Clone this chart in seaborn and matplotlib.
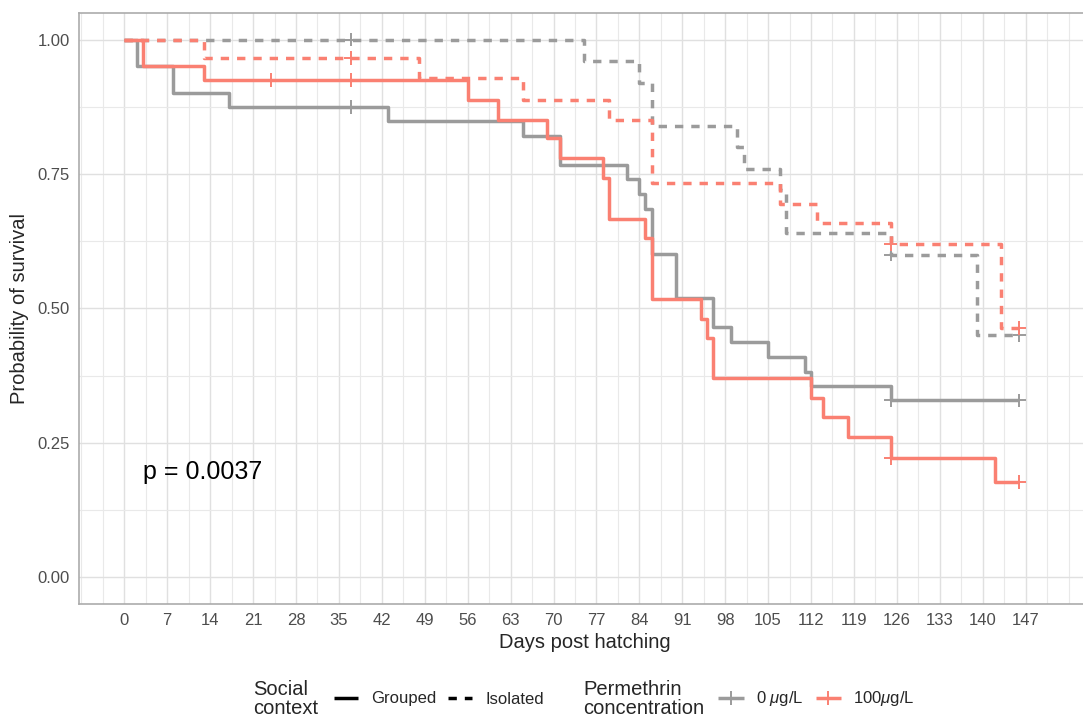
import numpy as np
import pandas as pd
import matplotlib
matplotlib.use("Agg")
import matplotlib.pyplot as plt
from matplotlib.lines import Line2D
from matplotlib.ticker import MultipleLocator, FixedLocator
import seaborn as sns

sns.set_style("white")
plt.rcParams["font.family"] = ["Liberation Sans", "DejaVu Sans"]
plt.rcParams["mathtext.fontset"] = "custom"
plt.rcParams["mathtext.rm"] = "Liberation Sans"
plt.rcParams["mathtext.it"] = "Liberation Sans:italic"

# Kaplan-Meier step curves: event times (days) and survival after each step
conc_levels = ["0", "100"]
conc_labels = ["0 $\\mu$g/L", "100$\\mu$g/L"]
context_levels = ["Grouped", "Isolated"]

t_0_grouped = [0, 2, 8, 17, 43, 65, 71, 82, 84, 85, 86, 90, 96, 99, 105, 111, 112, 125]
s_0_grouped = [1.0, 0.95, 0.90, 0.875, 0.849, 0.82, 0.766, 0.74, 0.712, 0.684,
               0.602, 0.52, 0.465, 0.437, 0.409, 0.381, 0.355, 0.329]
c_0_grouped = [37, 125, 146]

t_100_grouped = [0, 3, 13, 56, 61, 69, 71, 78, 79, 85, 86, 94, 95, 96, 112, 114, 118, 125, 142]
s_100_grouped = [1.0, 0.95, 0.925, 0.888, 0.851, 0.816, 0.779, 0.742, 0.667, 0.63,
                 0.518, 0.481, 0.444, 0.37, 0.334, 0.297, 0.26, 0.222, 0.177]
c_100_grouped = [24, 37, 125, 146]

t_0_isolated = [0, 75, 84, 86, 100, 101, 107, 108, 125, 139]
s_0_isolated = [1.0, 0.96, 0.92, 0.84, 0.80, 0.76, 0.72, 0.64, 0.60, 0.45]
c_0_isolated = [37, 125, 146]

t_100_isolated = [0, 13, 48, 65, 79, 86, 107, 113, 125, 143]
s_100_isolated = [1.0, 0.966, 0.929, 0.888, 0.851, 0.734, 0.695, 0.658, 0.619, 0.463]
c_100_isolated = [37, 125, 146]

day_ticks = list(range(0, 148, 7))
surv_ticks = [0.0, 0.25, 0.50, 0.75, 1.00]
p_value_text = "p = 0.0037"

curves = [
    ("0", "Grouped", t_0_grouped, s_0_grouped, c_0_grouped),
    ("0", "Isolated", t_0_isolated, s_0_isolated, c_0_isolated),
    ("100", "Grouped", t_100_grouped, s_100_grouped, c_100_grouped),
    ("100", "Isolated", t_100_isolated, s_100_isolated, c_100_isolated),
]

step_rows, cens_rows = [], []
for conc, ctx, times, surv, cens in curves:
    name = f"{conc}-{ctx}"
    for t, s in zip(times, surv):
        step_rows.append((name, conc, ctx, t, s))
    # extend the last step to the final follow-up time
    step_rows.append((name, conc, ctx, max(cens), surv[-1]))
    times_arr = np.asarray(times)
    for c in cens:
        idx = np.searchsorted(times_arr, c, side="right") - 1
        cens_rows.append((name, conc, ctx, c, surv[idx]))

steps = pd.DataFrame(step_rows, columns=["curve", "conc", "context", "time", "surv"])
censored = pd.DataFrame(cens_rows, columns=["curve", "conc", "context", "time", "surv"])

palette = {"0": "#9B9B9B", "100": "#FA8072"}
dash_map = {"Grouped": "", "Isolated": (2.4, 2.3)}
LW = 2.5

fig = plt.figure(figsize=(10.83, 7.21), dpi=100)
W, H = 1083, 721
left, right, top, bottom = 79, 1090, 12.7, 604
ax = fig.add_axes([left / W, 1 - bottom / H, (right - left) / W, (bottom - top) / H])

sns.lineplot(data=steps, x="time", y="surv", hue="conc", style="context",
             units="curve", estimator=None, sort=False, drawstyle="steps-post",
             hue_order=conc_levels, style_order=context_levels,
             palette=palette, dashes=dash_map, linewidth=LW,
             legend=False, ax=ax)
for line in ax.get_lines():
    line.set_solid_capstyle("butt")
    line.set_dash_capstyle("butt")

sns.scatterplot(data=censored, x="time", y="surv", hue="conc",
                hue_order=conc_levels, palette=palette, marker="+",
                s=95, linewidth=1.4, legend=False, ax=ax, zorder=5)

ax.set_xlim(-7.39, 157.5)
ax.set_ylim(-0.05, 1.05)
ax.xaxis.set_major_locator(FixedLocator(day_ticks))
ax.set_xticklabels([str(d) for d in day_ticks])
ax.xaxis.set_minor_locator(MultipleLocator(3.5))
ax.yaxis.set_major_locator(FixedLocator(surv_ticks))
ax.set_yticklabels([f"{v:.2f}" for v in surv_ticks])
ax.yaxis.set_minor_locator(MultipleLocator(0.125))

ax.grid(which="major", color="#E0E0E0", linewidth=1.0)
ax.grid(which="minor", color="#E9E9E9", linewidth=0.85)
ax.set_axisbelow(True)
ax.tick_params(which="major", length=3.5, width=1.0, color="#333333",
               labelcolor="#4D4D4D", labelsize=12, pad=3)
ax.tick_params(which="minor", length=0)
for sp in ax.spines.values():
    sp.set_color("#ABABAB")
    sp.set_linewidth(1.2)
ax.spines["right"].set_visible(False)
ax.set_xlabel("")
ax.set_ylabel("")

ax.text(3, 0.182, p_value_text, fontsize=18, ha="left", va="baseline", color="black")

fig.text(584.5 / W, 1 - 642 / H, "Days post hatching", fontsize=14.5,
         ha="center", va="center")
fig.text(20 / W, 1 - 308 / H, "Probability of survival", fontsize=14.5,
         ha="center", va="center", rotation=90)

# legends along the bottom edge
row_y = 1 - 699 / H
fig.text(253 / W, 1 - 699 / H, "Social\ncontext", fontsize=14.5,
         ha="left", va="center", linespacing=1.0)
ctx_handles = [Line2D([], [], color="black", lw=LW, solid_capstyle="butt"),
               Line2D([], [], color="black", lw=LW, dashes=dash_map["Isolated"])]
leg1 = fig.legend(handles=ctx_handles, labels=context_levels, loc="center left",
                  bbox_to_anchor=(333.6 / W, row_y), ncol=2, frameon=False,
                  fontsize=12, borderpad=0, borderaxespad=0, handlelength=1.44,
                  handletextpad=0.83, columnspacing=0.66)

fig.text(583.6 / W, 1 - 699 / H, "Permethrin\nconcentration", fontsize=14.5,
         ha="left", va="center", linespacing=1.0)
conc_handles = [Line2D([], [], color=palette[c], lw=LW, marker="+",
                       markersize=10, markeredgewidth=1.4, solid_capstyle="butt")
                for c in conc_levels]
leg2 = fig.legend(handles=conc_handles, labels=conc_labels, loc="center left",
                  bbox_to_anchor=(718 / W, row_y), ncol=2, frameon=False,
                  fontsize=12, borderpad=0, borderaxespad=0, handlelength=1.55,
                  handletextpad=0.7, columnspacing=0.75)

fig.savefig("out.png", dpi=100)
